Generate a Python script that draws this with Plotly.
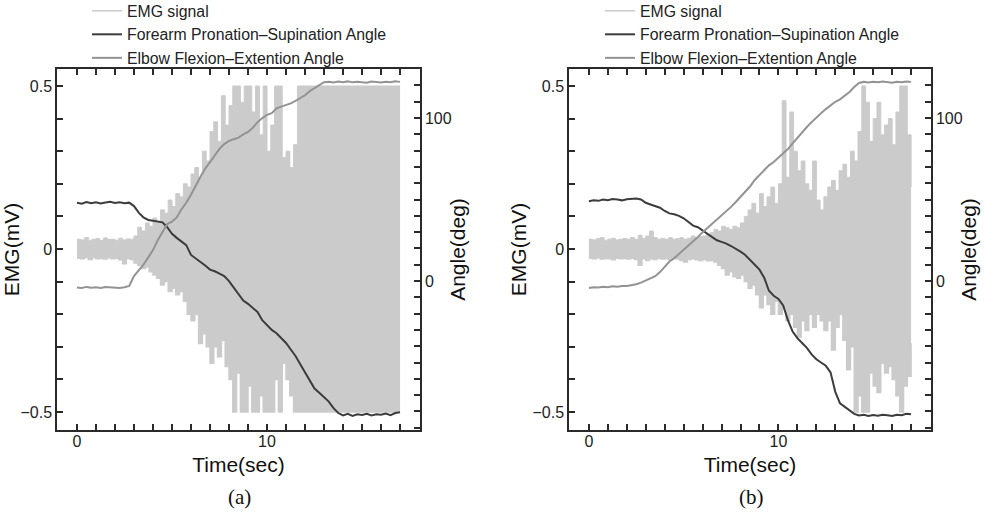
import plotly.graph_objects as go

# ---------------- data ----------------
emg_time = [round(i * 0.2, 1) for i in range(86)]          # 0.0 .. 17.0 s
ang_time = [round(i * 0.25, 2) for i in range(69)]         # 0.0 .. 17.0 s

emg_hi_a = [0.030, 0.028, 0.035, 0.027, 0.030, 0.032, 0.026, 0.034, 0.029, 0.030,
            0.027, 0.033, 0.028, 0.031, 0.030, 0.040, 0.067, 0.055, 0.080, 0.070,
            0.095, 0.085, 0.120, 0.110, 0.150, 0.130, 0.170, 0.160, 0.200, 0.190,
            0.230, 0.250, 0.220, 0.300, 0.270, 0.360, 0.390, 0.330, 0.470, 0.380,
            0.440, 0.500, 0.500, 0.450, 0.500, 0.500, 0.420, 0.500, 0.350, 0.500,
            0.300, 0.380, 0.500, 0.500, 0.280, 0.300, 0.250, 0.320, 0.500, 0.500,
            0.500, 0.500, 0.500, 0.500, 0.500, 0.500, 0.500, 0.500, 0.500, 0.500,
            0.500, 0.500, 0.500, 0.500, 0.500, 0.500, 0.500, 0.500, 0.500, 0.500,
            0.500, 0.500, 0.500, 0.500, 0.500, 0.500]
emg_lo_a = [-0.028, -0.030, -0.026, -0.032, -0.027, -0.030, -0.029, -0.031, -0.027, -0.030,
            -0.028, -0.033, -0.045, -0.029, -0.032, -0.043, -0.050, -0.060, -0.055, -0.070,
            -0.080, -0.090, -0.110, -0.100, -0.130, -0.120, -0.140, -0.130, -0.160, -0.200,
            -0.220, -0.200, -0.290, -0.260, -0.300, -0.350, -0.300, -0.330, -0.280, -0.360,
            -0.400, -0.500, -0.380, -0.500, -0.500, -0.420, -0.500, -0.500, -0.450, -0.500,
            -0.500, -0.500, -0.400, -0.500, -0.350, -0.400, -0.450, -0.500, -0.500, -0.500,
            -0.500, -0.500, -0.500, -0.500, -0.500, -0.500, -0.500, -0.500, -0.500, -0.500,
            -0.500, -0.500, -0.500, -0.500, -0.500, -0.500, -0.500, -0.500, -0.500, -0.500,
            -0.500, -0.500, -0.500, -0.500, -0.500, -0.500]
emg_hi_b = [0.030, 0.028, 0.032, 0.035, 0.027, 0.030, 0.033, 0.028, 0.030, 0.032,
            0.030, 0.035, 0.030, 0.042, 0.032, 0.040, 0.055, 0.035, 0.030, 0.033,
            0.030, 0.035, 0.030, 0.032, 0.035, 0.030, 0.033, 0.040, 0.035, 0.038,
            0.040, 0.045, 0.050, 0.060, 0.055, 0.070, 0.065, 0.060, 0.070, 0.065,
            0.080, 0.100, 0.120, 0.140, 0.110, 0.170, 0.130, 0.160, 0.190, 0.140,
            0.200, 0.455, 0.220, 0.420, 0.300, 0.240, 0.270, 0.200, 0.180, 0.270,
            0.150, 0.120, 0.160, 0.190, 0.210, 0.180, 0.240, 0.260, 0.220, 0.300,
            0.270, 0.360, 0.500, 0.450, 0.330, 0.400, 0.450, 0.350, 0.380, 0.400,
            0.320, 0.420, 0.500, 0.500, 0.350, 0.190]
emg_lo_b = [-0.028, -0.030, -0.027, -0.031, -0.029, -0.030, -0.033, -0.028, -0.030, -0.029,
            -0.031, -0.028, -0.032, -0.050, -0.030, -0.035, -0.030, -0.032, -0.028, -0.031,
            -0.030, -0.033, -0.029, -0.031, -0.035, -0.040, -0.032, -0.030, -0.033, -0.035,
            -0.032, -0.036, -0.035, -0.040, -0.050, -0.060, -0.080, -0.070, -0.085, -0.090,
            -0.080, -0.100, -0.120, -0.110, -0.140, -0.180, -0.140, -0.170, -0.200, -0.160,
            -0.200, -0.180, -0.220, -0.200, -0.240, -0.270, -0.220, -0.250, -0.200, -0.240,
            -0.200, -0.220, -0.250, -0.220, -0.310, -0.240, -0.200, -0.280, -0.370, -0.300,
            -0.500, -0.450, -0.500, -0.500, -0.380, -0.420, -0.440, -0.350, -0.380, -0.360,
            -0.400, -0.450, -0.500, -0.420, -0.390, -0.290]

forearm_a = [48, 47.5, 48.5, 47.8, 48.3, 47.6, 48.2, 48.6, 47.9, 48.4, 47.8, 48.1,
             46, 42, 39, 37.5, 37, 36.5, 36, 33, 29, 26.5, 24, 22, 16, 14, 12, 9.5,
             7, 6, 4.5, 3, 0, -4, -8, -12, -14, -16.5, -19, -24, -27, -30, -32, -35,
             -38, -42, -46, -51, -56, -61, -66, -68.5, -71, -74, -78, -81, -82.5, -81.5,
             -82.8, -81.8, -82.2, -81.5, -82.5, -81.8, -82, -81.3, -82.3, -81, -80.5]
elbow_a = [-4, -4.3, -3.6, -4.1, -3.8, -4.2, -3.7, -4, -3.9, -4.2, -3.8,
           -3, 3, 6.5, 10, 14.5, 19, 25, 30, 35, 36.5, 39, 44, 48, 53, 59, 64, 69,
           73, 77, 81, 84, 86, 87, 88, 90, 91.5, 94, 97.5, 100, 102, 103, 106, 107,
           108, 109, 110.5, 112, 114, 116.5, 118.5, 120.5, 122, 122.3, 121.8, 122.4,
           122, 122.5, 121.9, 122.3, 122, 121.7, 122.4, 122, 121.8, 122.3, 122, 122.6, 122.2]
forearm_b = [49, 49.5, 49.2, 50, 49.6, 50.3, 50, 49.5, 50.2, 50.5, 50.6,
             50, 48, 47, 46, 45, 43, 41.5, 41, 40, 38.5, 36, 34, 33, 31, 29, 26.5, 25,
             24, 23, 21.5, 20, 18, 16, 13, 10, 7, 2, -6, -9, -11, -15, -24, -31, -35,
             -38, -41, -45, -48, -50, -52, -56, -68, -75, -77, -79, -81.5, -82.5, -82,
             -82.8, -82.2, -82.6, -82, -82.4, -82.8, -82, -82.3, -81.5, -81.8]
elbow_b = [-4.3, -3.8, -4, -3.5, -3.8, -3.2, -3.5, -3, -3,
           -2.5, -2, -1, 0.5, 1.5, 3, 5.5, 9, 12, 14, 16.5, 19, 22, 24.5, 27, 30,
           32.5, 35, 38, 40, 43, 45.5, 48.5, 51.5, 54.5, 58, 62, 65, 68, 71, 73, 75.5,
           78, 81, 84.5, 88, 91, 94.5, 97.5, 100.5, 103, 105.5, 108, 110, 111.5, 113.5,
           116, 119, 121.5, 122.3, 121.8, 122.2, 121.9, 122.4, 122, 121.7, 122.3, 122,
           122.5, 122.2]

x_ticks = list(range(0, 18))
x_ticktext = ["0" if v == 0 else "10" if v == 10 else "" for v in x_ticks]
emg_ticks = [-0.5, -0.4, -0.3, -0.2, -0.1, 0, 0.1, 0.2, 0.3, 0.4, 0.5]
emg_ticktext = ["\u22120.5", "", "", "", "", "0", "", "", "", "", "0.5"]
ang_ticks = list(range(-90, 130, 10))
ang_ticktext = ["100" if v == 100 else "0" if v == 0 else "" for v in ang_ticks]

EMG_COLOR = "#cbcbcb"
FORE_COLOR = "#3c3c3c"
ELB_COLOR = "#939393"
AX_COLOR = "#2a2a2a"
FONT = "Liberation Sans, Arial, sans-serif"

fig = go.Figure()

panels = [
    dict(x="x", y="y", y2="y2", hi=emg_hi_a, lo=emg_lo_a, fa=forearm_a, el=elbow_a, leg="legend"),
    dict(x="x2", y="y3", y2="y4", hi=emg_hi_b, lo=emg_lo_b, fa=forearm_b, el=elbow_b, leg="legend2"),
]
for p in panels:
    fig.add_trace(go.Scatter(x=emg_time, y=p["lo"], mode="lines", name="EMG signal",
                             line=dict(color=EMG_COLOR, width=1.5, shape="hv"),
                             xaxis=p["x"], yaxis=p["y"], legend=p["leg"]))
    fig.add_trace(go.Scatter(x=emg_time, y=p["hi"], mode="lines", name="EMG signal",
                             line=dict(color=EMG_COLOR, width=1, shape="hv"), fill="tonexty",
                             fillcolor=EMG_COLOR, showlegend=False,
                             xaxis=p["x"], yaxis=p["y"], legend=p["leg"]))
    fig.add_trace(go.Scatter(x=ang_time, y=p["fa"], mode="lines",
                             name="Forearm Pronation\u2013Supination Angle",
                             line=dict(color=FORE_COLOR, width=2),
                             xaxis=p["x"], yaxis=p["y2"], legend=p["leg"]))
    fig.add_trace(go.Scatter(x=ang_time, y=p["el"], mode="lines",
                             name="Elbow Flexion\u2013Extention Angle",
                             line=dict(color=ELB_COLOR, width=2),
                             xaxis=p["x"], yaxis=p["y2"], legend=p["leg"]))

W, H = 984, 521
ydom = [(H - 430) / H, (H - 69) / H]
xdom_a = [57 / W, 420 / W]
xdom_b = [569 / W, 931 / W]

tickfont = dict(family=FONT, size=16, color="#222")
titlefont = dict(family=FONT, size=21, color="#111")

def xaxis(dom):
    return dict(domain=dom, range=[-1.05, 18.05], tickmode="array", tickvals=x_ticks,
                ticktext=x_ticktext, ticks="inside", ticklen=6, tickwidth=1.5,
                tickcolor=AX_COLOR, showline=True, linecolor=AX_COLOR, linewidth=1.5,
                mirror="ticks", showgrid=False, zeroline=False, tickfont=tickfont,
                ticklabelstandoff=-4, automargin=False,
                title=dict(text="Time(sec)", font=titlefont, standoff=8))

def yleft(anchor):
    return dict(domain=ydom, anchor=anchor, range=[-0.555, 0.552], tickmode="array",
                tickvals=emg_ticks, ticktext=emg_ticktext, ticks="inside", ticklen=6,
                tickwidth=1.5, tickcolor=AX_COLOR, showline=True, linecolor=AX_COLOR,
                linewidth=1.5, showgrid=False, zeroline=False, tickfont=tickfont,
                automargin=False,
                title=dict(text="EMG(mV)", font=titlefont, standoff=0))

def yright(anchor, over):
    return dict(anchor=anchor, overlaying=over, side="right", range=[-91.4, 130.1],
                tickmode="array", tickvals=ang_ticks, ticktext=ang_ticktext,
                ticks="inside", ticklen=6, tickwidth=1.5, tickcolor=AX_COLOR,
                showline=True, linecolor=AX_COLOR, linewidth=1.5, showgrid=False,
                zeroline=False, tickfont=tickfont, automargin=False,
                title=dict(text="Angle(deg)", font=titlefont, standoff=0))

legfont = dict(family=FONT, size=15.8, color="#222")
fig.update_layout(
    width=W, height=H, margin=dict(l=0, r=0, t=0, b=0, autoexpand=False),
    paper_bgcolor="white", plot_bgcolor="white",
    xaxis=xaxis(xdom_a), xaxis2=xaxis(xdom_b),
    yaxis=yleft("x"), yaxis2=yright("x", "y"),
    yaxis3=yleft("x2"), yaxis4=yright("x2", "y3"),
    legend=dict(x=87 / W, y=1 + 6 / H, xanchor="left", yanchor="top", font=legfont,
                bgcolor="rgba(0,0,0,0)", tracegroupgap=0, traceorder="normal"),
    legend2=dict(x=600 / W, y=1 + 6 / H, xanchor="left", yanchor="top", font=legfont,
                 bgcolor="rgba(0,0,0,0)", tracegroupgap=0, traceorder="normal"),
    annotations=[
        dict(text="(a)", x=239 / W, y=(H - 497) / H, xref="paper", yref="paper",
             xanchor="center", yanchor="middle", showarrow=False,
             font=dict(family="Liberation Serif, Times New Roman, serif", size=21, color="#111")),
        dict(text="(b)", x=751 / W, y=(H - 497) / H, xref="paper", yref="paper",
             xanchor="center", yanchor="middle", showarrow=False,
             font=dict(family="Liberation Serif, Times New Roman, serif", size=21, color="#111")),
    ],
)

fig.write_html("out.html")
